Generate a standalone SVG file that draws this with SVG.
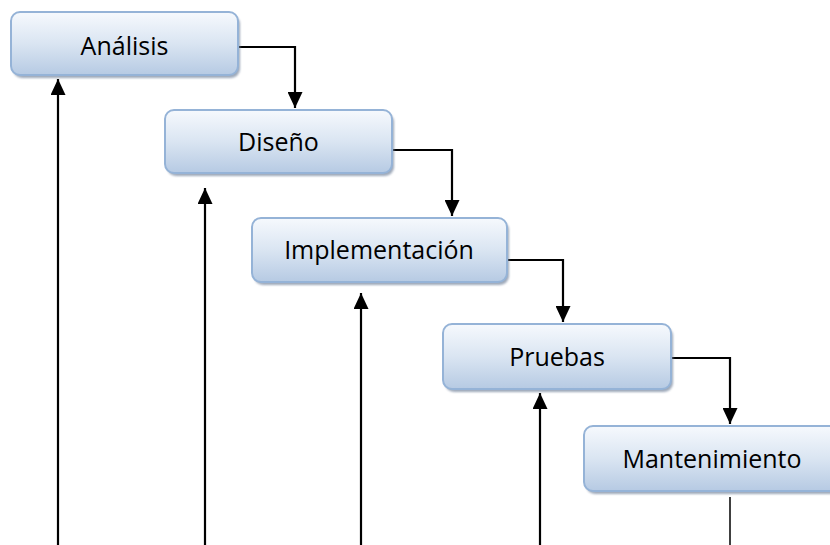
<svg xmlns="http://www.w3.org/2000/svg" width="830" height="545" viewBox="0 0 830 545">
<defs>
<linearGradient id="g" x1="0" y1="0" x2="0" y2="1">
<stop offset="0" stop-color="#f6f9fd"/>
<stop offset="0.5" stop-color="#dae5f2"/>
<stop offset="1" stop-color="#b6cae3"/>
</linearGradient>
<filter id="blur" x="-5%" y="-10%" width="110%" height="130%"><feGaussianBlur stdDeviation="1"/></filter>
<marker id="ah" markerWidth="16" markerHeight="15" refX="16" refY="7.5" orient="auto" markerUnits="userSpaceOnUse" viewBox="0 0 16 15">
<path d="M0,0 L16,7.5 L0,15 Z" fill="#000"/>
</marker>
<style>
.sh{fill:#7d8ca3;opacity:0.75;filter:url(#blur)}
.bx{fill:url(#g);stroke:#95b3d7;stroke-width:2}
.t{font-family:"Open Sans","Noto Sans",sans-serif;font-size:25px;fill:#000;text-anchor:middle}
.c{fill:none;stroke:#000;stroke-width:2.2}
</style>
</defs>
<g id="connectors">
<path class="c" d="M239,47 H295 V108" marker-end="url(#ah)"/>
<path class="c" d="M393,150 H452 V216" marker-end="url(#ah)"/>
<path class="c" d="M508,260 H563 V322" marker-end="url(#ah)"/>
<path class="c" d="M672,358 H730 V424" marker-end="url(#ah)"/>
<path class="c" d="M58,545 V79" marker-end="url(#ah)"/>
<path class="c" d="M205,545 V188" marker-end="url(#ah)"/>
<path class="c" d="M361,545 V293" marker-end="url(#ah)"/>
<path class="c" d="M540,545 V393" marker-end="url(#ah)"/>
<path class="c" d="M730,497 V545" style="stroke-width:1.5"/>
</g>
<g id="analisis">
<rect class="sh" x="13" y="15" width="227" height="63" rx="9"/>
<rect class="bx" x="11" y="12" width="227" height="63" rx="9"/>
<text class="t" x="124.5" y="55">Análisis</text>
</g>
<g id="diseno">
<rect class="sh" x="167" y="113" width="227" height="63" rx="9"/>
<rect class="bx" x="165" y="110" width="227" height="63" rx="9"/>
<text class="t" x="278.5" y="151">Diseño</text>
</g>
<g id="implementacion">
<rect class="sh" x="254" y="221" width="255" height="64" rx="9"/>
<rect class="bx" x="252" y="218" width="255" height="64" rx="9"/>
<text class="t" x="379" y="259">Implementación</text>
</g>
<g id="pruebas">
<rect class="sh" x="445" y="327" width="228" height="65" rx="9"/>
<rect class="bx" x="443" y="324" width="228" height="65" rx="9"/>
<text class="t" x="557" y="366">Pruebas</text>
</g>
<g id="mantenimiento">
<rect class="sh" x="586" y="429" width="258" height="65" rx="9"/>
<rect class="bx" x="584" y="426" width="258" height="65" rx="9"/>
<text class="t" x="712" y="468">Mantenimiento</text>
</g>
</svg>
